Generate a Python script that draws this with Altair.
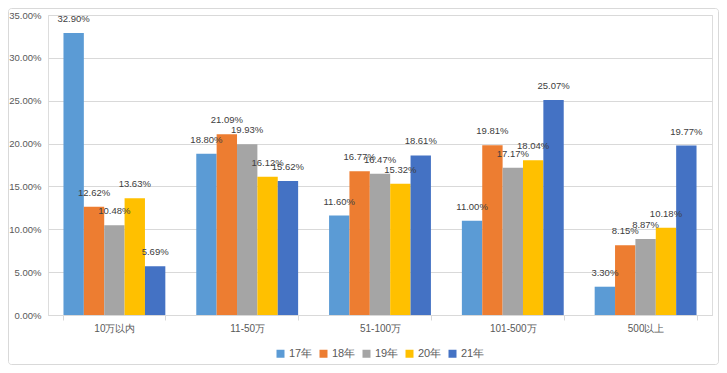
import altair as alt
import pandas as pd

categories = ["10万以内", "11-50万", "51-100万", "101-500万", "500以上"]
years = ["17年", "18年", "19年", "20年", "21年"]
v17 = [32.90, 18.80, 11.60, 11.00, 3.30]
v18 = [12.62, 21.09, 16.77, 19.81, 8.15]
v19 = [10.48, 19.93, 16.47, 17.17, 8.87]
v20 = [13.63, 16.12, 15.32, 18.04, 10.18]
v21 = [5.69, 15.62, 18.61, 25.07, 19.77]
y_ticks = [0.0, 0.05, 0.10, 0.15, 0.20, 0.25, 0.30, 0.35]
colors = ["#5B9BD5", "#ED7D31", "#A5A5A5", "#FFC000", "#4472C4"]

rows = []
for yr, vals in zip(years, [v17, v18, v19, v20, v21]):
    for c, v in zip(categories, vals):
        rows.append({"cat": c, "year": yr, "val": v / 100.0})
df = pd.DataFrame(rows)

FONT = "Liberation Sans"
W, H = 664, 300

x = alt.X("cat:N", sort=categories, title=None,
          scale=alt.Scale(paddingInner=0.233, paddingOuter=0.1165),
          axis=alt.Axis(labelAngle=0, tickBand="extent", domainColor="#D9D9D9",
                        tickColor="#D9D9D9", tickSize=5, labelPadding=3,
                        labelFontSize=10, labelColor="#595959", labelFont=FONT))
xo = alt.XOffset("year:N", sort=years, scale=alt.Scale(paddingInner=0, paddingOuter=0))
y = alt.Y("val:Q", title=None,
          scale=alt.Scale(domain=[0, 0.3500001], nice=False),
          axis=alt.Axis(format=".2%", values=y_ticks, domain=False,
                        ticks=False, gridColor="#D9D9D9", labelPadding=7,
                        labelFontSize=9.5, labelColor="#595959", labelFont=FONT))
color = alt.Color("year:N", sort=years, scale=alt.Scale(domain=years, range=colors),
                  legend=alt.Legend(title=None, orient="none", direction="horizontal",
                                    legendX=227, legendY=333, symbolType="square",
                                    symbolSize=64, symbolStrokeWidth=0,
                                    labelFontSize=11, labelColor="#595959", labelFont=FONT,
                                    columnPadding=5, symbolOffset=0, labelOffset=3))

base = alt.Chart(df)
bars = base.mark_bar().encode(x=x, xOffset=xo, y=y, color=color)
labels = base.mark_text(fontSize=9.5, font=FONT, color="#404040", baseline="middle",
                        dy=-14).encode(
    x=alt.X("cat:N", sort=categories), xOffset=alt.XOffset("year:N", sort=years),
    y="val:Q", text=alt.Text("val:Q", format=".2%"))

frame = alt.Chart(pd.DataFrame({"a": [0]})).mark_rect(
    filled=False, stroke="#D9D9D9", strokeWidth=1, cornerRadius=3).encode(
    x=alt.value(-39.5), x2=alt.value(W + 6.5), y=alt.value(-6.5), y2=alt.value(H + 49.5))

chart = alt.layer(frame, bars, labels).properties(
    width=W, height=H,
    autosize=alt.AutoSizeParams(type="none"),
    padding={"left": 40, "top": 7, "right": 7, "bottom": 50},
).configure_view(stroke=None).configure(background="white")

chart.save("out.html", embed_options={"renderer": "svg", "actions": False})
